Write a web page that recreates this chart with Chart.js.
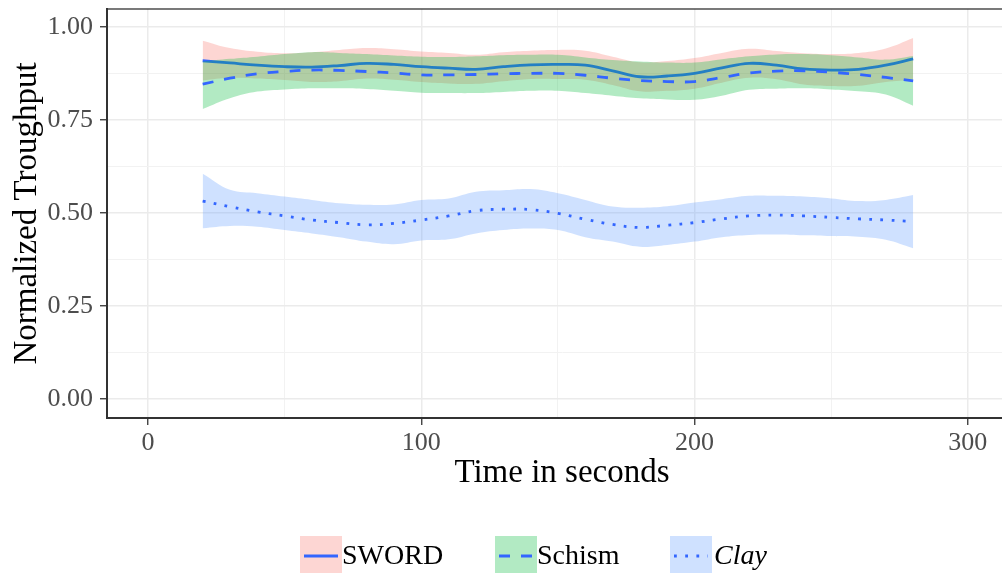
<!DOCTYPE html>
<html>
<head>
<meta charset="utf-8">
<script src="https://cdn.jsdelivr.net/npm/chart.js@4/dist/chart.umd.min.js"></script>
<style>
  html, body { margin: 0; padding: 0; background: #ffffff; overflow: hidden; }
  #wrap { width: 1002px; height: 573px; overflow: hidden; position: relative; }
  canvas { display: block; }
</style>
</head>
<body>
<div id="wrap"><canvas id="chart" width="1017" height="590"></canvas></div>
<script>
// Time (s) at which the smoothed throughput is evaluated
const times = [20, 30, 40, 50, 60, 70, 80, 90, 100, 110, 120, 130, 140, 150, 160, 170, 180, 190, 200, 210, 220, 230, 240, 250, 260, 270, 280];

// SWORD: smoothed mean and confidence band
const swordMean = [0.909, 0.903, 0.897, 0.893, 0.892, 0.896, 0.902, 0.899, 0.893, 0.889, 0.886, 0.893, 0.898, 0.899, 0.897, 0.882, 0.866, 0.868, 0.875, 0.890, 0.902, 0.897, 0.887, 0.884, 0.886, 0.897, 0.914];
const swordHigh = [0.963, 0.943, 0.933, 0.929, 0.932, 0.938, 0.943, 0.940, 0.934, 0.930, 0.925, 0.932, 0.936, 0.938, 0.936, 0.920, 0.905, 0.908, 0.916, 0.930, 0.941, 0.935, 0.929, 0.927, 0.930, 0.942, 0.970];
const swordLow  = [0.856, 0.863, 0.861, 0.857, 0.852, 0.854, 0.861, 0.858, 0.852, 0.848, 0.847, 0.854, 0.860, 0.860, 0.858, 0.844, 0.827, 0.828, 0.834, 0.850, 0.863, 0.859, 0.845, 0.841, 0.842, 0.852, 0.858];

// Schism
const schismMean = [0.846, 0.862, 0.874, 0.880, 0.884, 0.883, 0.880, 0.876, 0.871, 0.871, 0.872, 0.874, 0.875, 0.875, 0.870, 0.862, 0.856, 0.853, 0.853, 0.864, 0.876, 0.881, 0.882, 0.878, 0.872, 0.864, 0.855];
const schismHigh = [0.907, 0.914, 0.920, 0.927, 0.932, 0.930, 0.927, 0.923, 0.920, 0.919, 0.921, 0.924, 0.925, 0.925, 0.918, 0.911, 0.907, 0.904, 0.904, 0.913, 0.921, 0.926, 0.927, 0.924, 0.918, 0.912, 0.922];
const schismLow  = [0.779, 0.808, 0.826, 0.832, 0.835, 0.835, 0.833, 0.828, 0.823, 0.822, 0.822, 0.825, 0.828, 0.828, 0.822, 0.815, 0.808, 0.805, 0.804, 0.815, 0.831, 0.834, 0.835, 0.832, 0.827, 0.818, 0.788];

// Clay
const clayMean = [0.532, 0.517, 0.503, 0.492, 0.481, 0.474, 0.468, 0.472, 0.481, 0.492, 0.506, 0.510, 0.509, 0.499, 0.483, 0.469, 0.461, 0.467, 0.474, 0.484, 0.492, 0.494, 0.492, 0.488, 0.484, 0.481, 0.477];
const clayHigh = [0.605, 0.562, 0.553, 0.544, 0.535, 0.526, 0.522, 0.523, 0.535, 0.539, 0.557, 0.561, 0.564, 0.553, 0.535, 0.517, 0.514, 0.518, 0.528, 0.537, 0.546, 0.546, 0.544, 0.539, 0.532, 0.535, 0.548];
const clayLow  = [0.459, 0.465, 0.463, 0.454, 0.445, 0.435, 0.423, 0.416, 0.426, 0.429, 0.445, 0.454, 0.458, 0.454, 0.435, 0.423, 0.409, 0.414, 0.423, 0.435, 0.441, 0.442, 0.440, 0.438, 0.436, 0.428, 0.405];

const seriesNames = ['SWORD', 'Schism', 'Clay'];
const xTicks = [0, 50, 100, 150, 200, 250, 300];
const yTicks = [0, 0.125, 0.25, 0.375, 0.5, 0.625, 0.75, 0.875, 1.0];

const FONT = "'Liberation Serif', 'Times New Roman', serif";
const LINE_BLUE = '#3366FF';
const bandColors = ['rgba(248,118,109,0.30)', 'rgba(0,186,56,0.30)', 'rgba(97,156,255,0.30)'];
const dashes = [[], [11, 11], [2.8, 8.4]];

const pts = ys => times.map((t, i) => ({ x: t, y: ys[i] }));
const groups = [
  { mean: swordMean, low: swordLow, high: swordHigh },
  { mean: schismMean, low: schismLow, high: schismHigh },
  { mean: clayMean, low: clayLow, high: clayHigh }
];

// band (low + high filled between) followed by the mean line, per series
const datasets = [];
groups.forEach((g, k) => {
  datasets.push({ label: seriesNames[k] + ' low', data: pts(g.low), borderWidth: 0, borderColor: 'rgba(0,0,0,0)', pointRadius: 0, fill: false, tension: 0.4 });
  datasets.push({ label: seriesNames[k] + ' high', data: pts(g.high), borderWidth: 0, borderColor: 'rgba(0,0,0,0)', pointRadius: 0, fill: '-1', backgroundColor: bandColors[k], tension: 0.4 });
  datasets.push({ label: seriesNames[k], data: pts(g.mean), borderWidth: 2.8, borderColor: LINE_BLUE, borderDash: dashes[k], borderCapStyle: 'butt', pointRadius: 0, fill: false, tension: 0.4 });
});
// first listed is drawn first
datasets.forEach((d, i) => { d.order = datasets.length - i; });

const isMajorX = v => Math.abs(v % 100) < 1e-9;
const isMajorY = v => Math.abs((v / 0.25) - Math.round(v / 0.25)) < 1e-9;

// panel border (top / right) drawn over the plot area
const panelBorder = {
  id: 'panelBorder',
  afterDatasetsDraw(chart) {
    const { ctx, chartArea: a } = chart;
    ctx.save();
    ctx.strokeStyle = '#333333';
    ctx.lineWidth = 1.3;
    ctx.strokeRect(a.left, a.top, a.right - a.left, a.bottom - a.top);
    ctx.restore();
  }
};

// bottom legend with filled keys and line styles
const keyLegend = {
  id: 'keyLegend',
  afterDraw(chart) {
    const { ctx } = chart;
    const keyX = [300, 495, 670];
    const keyTop = 536, keySize = 42, midY = 556;
    ctx.save();
    seriesNames.forEach((name, k) => {
      const x = keyX[k];
      ctx.fillStyle = bandColors[k];
      ctx.fillRect(x, keyTop, keySize, keySize);
      ctx.strokeStyle = LINE_BLUE;
      ctx.lineWidth = 2.8;
      ctx.lineCap = 'butt';
      ctx.setLineDash(dashes[k]);
      ctx.beginPath();
      ctx.moveTo(x + 4, midY);
      ctx.lineTo(x + keySize - 4, midY);
      ctx.stroke();
      ctx.setLineDash([]);
      ctx.fillStyle = '#000000';
      ctx.font = (k === 2 ? 'italic ' : '') + '28px ' + FONT;
      ctx.textBaseline = 'middle';
      ctx.textAlign = 'left';
      ctx.fillText(name, x + keySize + (k === 2 ? 2 : 0), midY + 1);
    });
    ctx.restore();
  }
};

new Chart(document.getElementById('chart'), {
  type: 'line',
  data: { datasets },
  plugins: [panelBorder, keyLegend],
  options: {
    responsive: false,
    animation: false,
    events: [],
    layout: { padding: { top: 9, right: 0, left: 0, bottom: 95 } },
    plugins: {
      legend: { display: false },
      tooltip: { enabled: false },
      filler: { drawTime: 'beforeDatasetDraw', propagate: false }
    },
    scales: {
      x: {
        type: 'linear',
        min: -15,
        max: 318,
        afterBuildTicks: s => { s.ticks = xTicks.map(v => ({ value: v })); },
        afterFit: s => { s.height = 77; s.paddingLeft = 0; s.paddingRight = 0; },
        ticks: {
          autoSkip: false,
          maxRotation: 0,
          padding: 3,
          color: '#4d4d4d',
          font: { family: FONT, size: 26 },
          callback: v => isMajorX(v) ? String(v) : ''
        },
        grid: {
          color: c => isMajorX(c.tick.value) ? '#ebebeb' : '#f2f2f2',
          lineWidth: c => isMajorX(c.tick.value) ? 1.5 : 1,
          tickColor: c => isMajorX(c.tick.value) ? '#333333' : 'rgba(0,0,0,0)',
          tickWidth: 1.3,
          tickLength: 7
        },
        border: { display: true, color: '#333333', width: 2 },
        title: {
          display: true,
          text: 'Time in seconds',
          color: '#000000',
          font: { family: FONT, size: 33, lineHeight: 1 },
          padding: { top: 0, bottom: 5 }
        }
      },
      y: {
        type: 'linear',
        min: -0.051,
        max: 1.048,
        afterBuildTicks: s => { s.ticks = yTicks.map(v => ({ value: v })); },
        afterFit: s => { s.width = 107; s.paddingTop = 0; s.paddingBottom = 0; },
        ticks: {
          autoSkip: false,
          padding: 7,
          color: '#4d4d4d',
          font: { family: FONT, size: 26 },
          callback: v => isMajorY(v) ? v.toFixed(2) : ''
        },
        grid: {
          color: c => isMajorY(c.tick.value) ? '#ebebeb' : '#f2f2f2',
          lineWidth: c => isMajorY(c.tick.value) ? 1.5 : 1,
          tickColor: c => isMajorY(c.tick.value) ? '#333333' : 'rgba(0,0,0,0)',
          tickWidth: 1.3,
          tickLength: 7
        },
        border: { display: true, color: '#333333', width: 2 },
        title: {
          display: true,
          text: 'Normalized Troughput',
          color: '#000000',
          font: { family: FONT, size: 33, lineHeight: 1 },
          padding: { top: 11, bottom: 0 }
        }
      }
    }
  }
});
</script>
</body>
</html>
